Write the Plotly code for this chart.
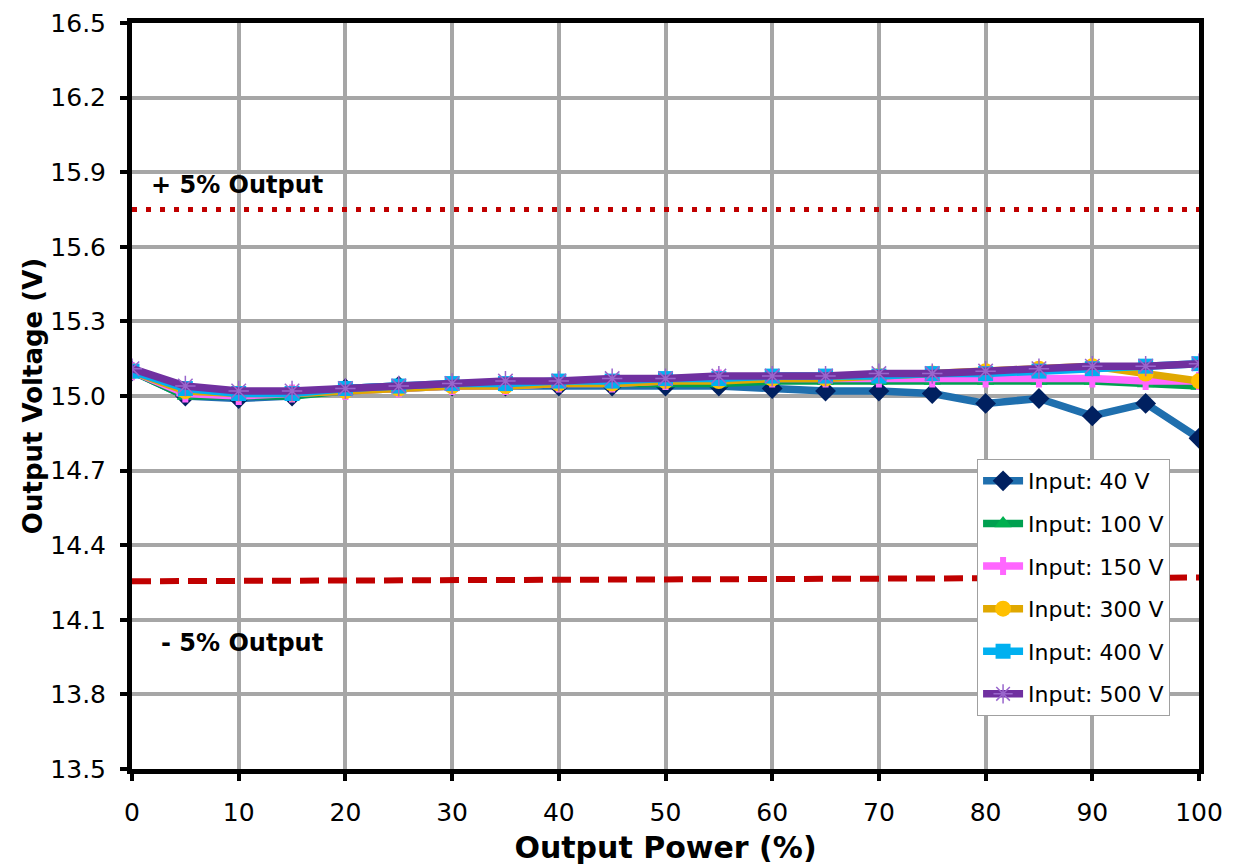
import plotly.graph_objects as go

power = [0, 5, 10, 15, 20, 25, 30, 35, 40, 45, 50, 55, 60, 65, 70, 75, 80, 85, 90, 95, 100]

v_40 = [15.10, 15.00, 14.99, 15.00, 15.03, 15.04, 15.04, 15.04, 15.04, 15.04, 15.04, 15.04, 15.03, 15.02, 15.02, 15.01, 14.97, 14.99, 14.92, 14.97, 14.83]
v_100 = [15.10, 15.00, 15.00, 15.00, 15.02, 15.03, 15.04, 15.04, 15.05, 15.05, 15.05, 15.05, 15.06, 15.06, 15.06, 15.06, 15.06, 15.06, 15.06, 15.05, 15.04]
v_150 = [15.10, 15.01, 15.00, 15.01, 15.02, 15.03, 15.04, 15.04, 15.05, 15.05, 15.06, 15.07, 15.07, 15.07, 15.07, 15.07, 15.07, 15.07, 15.07, 15.06, 15.06]
v_300 = [15.10, 15.02, 15.01, 15.01, 15.02, 15.03, 15.04, 15.04, 15.05, 15.05, 15.06, 15.06, 15.07, 15.07, 15.08, 15.09, 15.10, 15.11, 15.12, 15.09, 15.06]
v_400 = [15.10, 15.03, 15.01, 15.01, 15.03, 15.04, 15.05, 15.05, 15.06, 15.06, 15.07, 15.07, 15.08, 15.08, 15.08, 15.09, 15.09, 15.10, 15.11, 15.12, 15.13]
v_500 = [15.11, 15.04, 15.02, 15.02, 15.03, 15.04, 15.05, 15.06, 15.06, 15.07, 15.07, 15.08, 15.08, 15.08, 15.09, 15.09, 15.10, 15.11, 15.12, 15.12, 15.13]

limit_x = [0, 100]
upper_limit = [15.75, 15.75]
lower_limit = [14.255, 14.27]

y_ticks = [13.5, 13.8, 14.1, 14.4, 14.7, 15.0, 15.3, 15.6, 15.9, 16.2, 16.5]
x_ticks = [0, 10, 20, 30, 40, 50, 60, 70, 80, 90, 100]

FONT = "DejaVu Sans"

fig = go.Figure()

# limit lines
fig.add_trace(go.Scatter(x=limit_x, y=upper_limit, mode="lines", showlegend=False,
                         line=dict(color="#C00000", width=5, dash="5px,9px"), hoverinfo="skip"))
fig.add_trace(go.Scatter(x=limit_x, y=lower_limit, mode="lines", showlegend=False,
                         line=dict(color="#C00000", width=6, dash="19px,9px"), hoverinfo="skip"))

series = [
    ("Input: 40 V", v_40, "#1F6FAE", dict(symbol="diamond", color="#002060", size=16, line=dict(width=0))),
    ("Input: 100 V", v_100, "#00A050", dict(symbol="triangle-up", color="#00B050", size=15, line=dict(width=0))),
    ("Input: 150 V", v_150, "#FF66FF", dict(symbol="cross", color="#FF66FF", size=15, line=dict(width=0))),
    ("Input: 300 V", v_300, "#E0A800", dict(symbol="circle", color="#FFC000", size=16, line=dict(width=0))),
    ("Input: 400 V", v_400, "#00B0F0", dict(symbol="square", color="#00B0F0", size=15, line=dict(width=0))),
    ("Input: 500 V", v_500, "#7030A0", dict(symbol="asterisk-open", color="#9966CC", size=17, line=dict(width=1.5, color="#9966CC"))),
]

for i, (name, vals, lc, mk) in enumerate(series):
    fig.add_trace(go.Scatter(x=power, y=vals, mode="lines+markers", name=name,
                             legendgroup=f"g{i}",
                             line=dict(color=lc, width=7.5), marker=mk))

fig.add_annotation(x=1.6, y=15.849, text="<b>+ 5% Output</b>", showarrow=False,
                   xanchor="left", yanchor="middle", font=dict(family=FONT, size=24, color="black"))
fig.add_annotation(x=2.5, y=14.005, text="<b>- 5% Output</b>", showarrow=False,
                   xanchor="left", yanchor="middle", font=dict(family=FONT, size=24, color="black"))

axis_common = dict(showline=True, linecolor="black", linewidth=5, mirror=True,
                   showgrid=True, gridcolor="#A6A6A6", gridwidth=4,
                   ticks="outside", ticklen=7, tickwidth=4, tickcolor="black",
                   zeroline=False, automargin=False,
                   tickfont=dict(family=FONT, size=25, color="black"))

fig.update_xaxes(range=[0, 100], tickvals=x_ticks, ticktext=[str(t) for t in x_ticks],
                 ticklabelstandoff=10,
                 title=dict(text="<b>Output Power (%)</b>", font=dict(family=FONT, size=30, color="black"), standoff=16),
                 **axis_common)
fig.update_yaxes(range=[13.5, 16.5], tickvals=y_ticks, ticktext=[f"{t:.1f}" for t in y_ticks],
                 ticklabelstandoff=9,
                 title=dict(text="<b>Output Voltage (V)</b>", font=dict(family=FONT, size=26, color="black"), standoff=2),
                 **axis_common)

fig.update_layout(
    width=1235, height=865,
    margin=dict(l=132, r=36, t=23, b=96),
    paper_bgcolor="white", plot_bgcolor="white",
    font=dict(family=FONT, color="black"),
    legend=dict(x=0.792, y=0.4155, xanchor="left", yanchor="top",
                bgcolor="white", bordercolor="#A0A0A0", borderwidth=1,
                font=dict(family=FONT, size=22, color="black"),
                tracegroupgap=11, itemwidth=40),
)

fig.write_html("out.html")
